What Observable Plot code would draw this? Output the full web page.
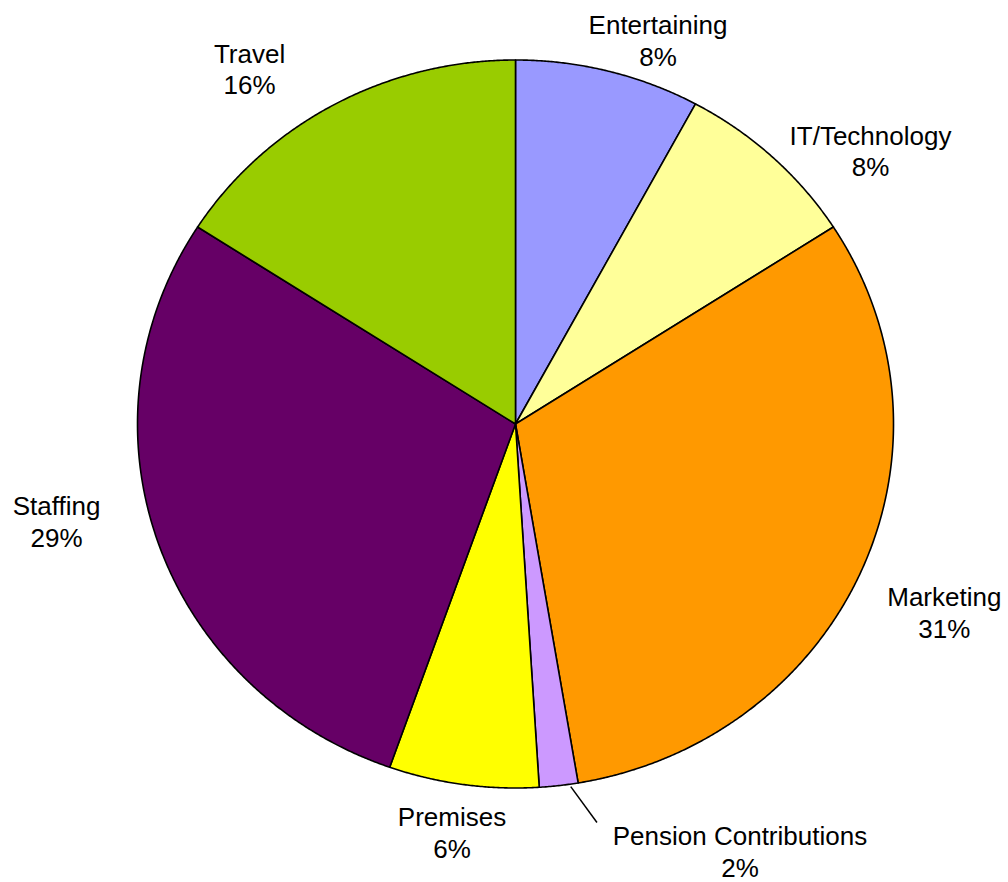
<!DOCTYPE html>
<html>
<head>
<meta charset="utf-8">
<script src="https://cdn.jsdelivr.net/npm/d3@7"></script>
<script src="https://cdn.jsdelivr.net/npm/@observablehq/plot@0.6"></script>
<style>
  html, body { margin: 0; padding: 0; background: #ffffff; }
  #chart svg { display: block; }
</style>
</head>
<body>
<div id="chart"></div>
<script>
// ---- Data ----
const categories = ["Entertaining", "IT/Technology", "Marketing", "Pension Contributions", "Premises", "Staffing", "Travel"];
const shares = [7.9, 8.0, 31.45, 1.65, 6.4, 28.7, 15.9];
const sliceColors = ["#9999FF", "#FFFF99", "#FF9900", "#CC99FF", "#FFFF00", "#660066", "#99CC00"];

// ---- Layout (pixels) ----
const W = 1008, H = 882;
const cx = 515, cy = 423.5, rx = 378, ry = 364;
// label nudges from the slice's mid-angle point on the rim, in pixels
const labelNudge = {
  "Entertaining": [49.6, -31.6],
  "IT/Technology": [98, -6.7],
  "Marketing": [83.1, 40.8],
  "Pension Contributions": [181.2, 64.9],
  "Premises": [-11.4, 47],
  "Staffing": [-101.4, -21.4],
  "Travel": [-84.9, -36]
};
const leaderStartNudge = [12, 1];
const leaderEndNudge = [-143, -28];

const px2x = d => d / rx;
const px2y = d => -d / ry;

const total = d3.sum(shares);
let acc = 0;
const slices = categories.map((name, i) => {
  const a0 = acc / total * 2 * Math.PI;
  acc += shares[i];
  const a1 = acc / total * 2 * Math.PI;
  const pts = [{x: 0, y: 0}];
  const n = Math.max(4, Math.ceil((a1 - a0) / (Math.PI / 720)));
  for (let k = 0; k <= n; k++) {
    const a = a0 + (a1 - a0) * k / n;
    pts.push({x: Math.sin(a), y: Math.cos(a)});
  }
  pts.push({x: 0, y: 0});
  const am = (a0 + a1) / 2;
  const nud = labelNudge[name];
  return {
    name, share: shares[i], color: sliceColors[i], pts,
    mx: Math.sin(am), my: Math.cos(am),
    lx: Math.sin(am) + px2x(nud[0]),
    ly: Math.cos(am) + px2y(nud[1]),
    label: name + "\n" + Math.round(shares[i]) + "%"
  };
});

const pension = slices.find(s => s.name === "Pension Contributions");
const leader = [{
  x1: pension.mx + px2x(leaderStartNudge[0]),
  y1: pension.my + px2y(leaderStartNudge[1]),
  x2: pension.lx + px2x(leaderEndNudge[0]),
  y2: pension.ly + px2y(leaderEndNudge[1])
}];

const chart = Plot.plot({
  width: W,
  height: H,
  margin: 0,
  style: {fontFamily: "'Liberation Sans', Arial, sans-serif", background: "#ffffff"},
  x: {domain: [-cx / rx, (W - cx) / rx], axis: null},
  y: {domain: [-(H - cy) / ry, cy / ry], axis: null},
  marks: [
    ...slices.map(s => Plot.line(s.pts, {
      x: "x", y: "y",
      fill: s.color,
      stroke: "#000000",
      strokeWidth: 1.6,
      strokeLinejoin: "round"
    })),
    Plot.link(leader, {x1: "x1", y1: "y1", x2: "x2", y2: "y2", stroke: "#000000", strokeWidth: 1.5}),
    Plot.text(slices, {
      x: "lx", y: "ly", text: "label",
      fontSize: 26, lineHeight: 1.22,
      fill: "#000000",
      textAnchor: "middle", lineAnchor: "middle"
    })
  ]
});
document.getElementById("chart").appendChild(chart);
</script>
</body>
</html>
